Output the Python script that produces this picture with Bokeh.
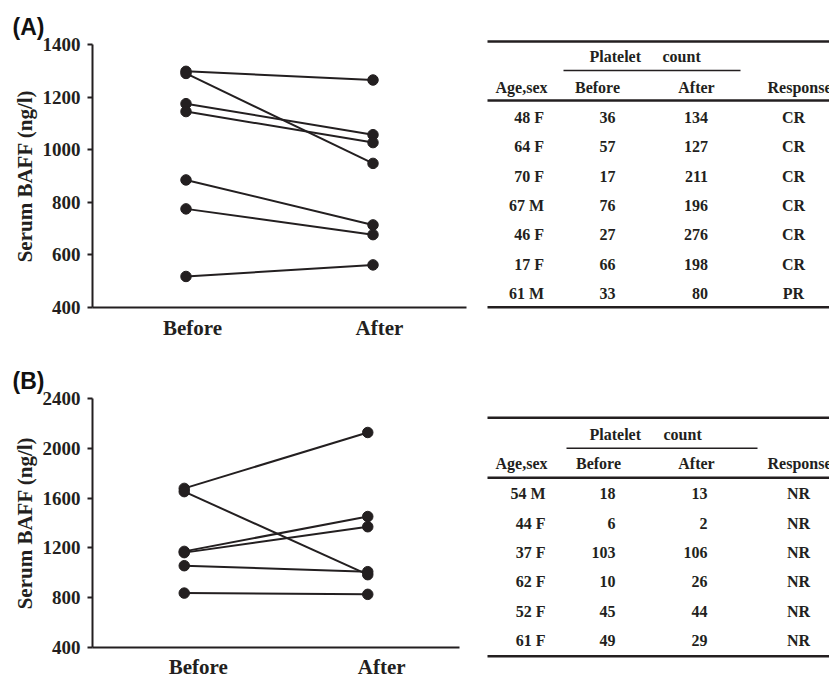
from bokeh.plotting import figure
from bokeh.models import ColumnDataSource, Range1d, FixedTicker, Title, LinearAxis
from bokeh.layouts import column, row
from bokeh.embed import file_html
from bokeh.resources import INLINE
from bokeh.core.properties import value

# ---------------- data ----------------
categories = ["Before", "After"]
cat_pos = [1, 3]

baff_before_A = [1298, 1290, 1175, 1145, 885, 775, 518]
baff_after_A = [1265, 948, 1057, 1027, 714, 677, 562]
ticks_A = [400, 600, 800, 1000, 1200, 1400]

baff_before_B = [1678, 1652, 1172, 1162, 1057, 837]
baff_after_B = [2127, 985, 1452, 1370, 1009, 827]
ticks_B = [400, 800, 1200, 1600, 2000, 2400]

header_cols = ["Age,sex", "Before", "After", "Response"]
header_group = ["Platelet", "count"]

age_A = ["48 F", "64 F", "70 F", "67 M", "46 F", "17 F", "61 M"]
plt_before_A = [36, 57, 17, 76, 27, 66, 33]
plt_after_A = [134, 127, 211, 196, 276, 198, 80]
resp_A = ["CR", "CR", "CR", "CR", "CR", "CR", "PR"]

age_B = ["54 M", "44 F", "37 F", "62 F", "52 F", "61 F"]
plt_before_B = [18, 6, 103, 10, 45, 49]
plt_after_B = [13, 2, 106, 26, 44, 29]
resp_B = ["NR", "NR", "NR", "NR", "NR", "NR"]

# ---------------- style ----------------
INK = "#231f20"
SERIF = "Liberation Serif"
SANS = "Liberation Sans"
PLOT_W = 478
TABLE_W = 351
X_SPAN = 4.0


def make_plot(before, after, ticks, tag, height, b_top, b_bottom, b_right,
              lab_shift_px, lab_standoff):
    frame_w = PLOT_W - 92 - b_right
    shift = lab_shift_px * X_SPAN / frame_w
    p = figure(width=PLOT_W, height=height, x_range=Range1d(0, X_SPAN),
               y_range=Range1d(ticks[0], ticks[-1]), output_backend="svg",
               toolbar_location=None, min_border_left=92, min_border_right=b_right,
               min_border_top=b_top, min_border_bottom=b_bottom, frame_align=False,
               x_axis_location=None)
    p.extra_x_ranges = {"lab": Range1d(-shift, X_SPAN - shift)}
    p.title = Title(text=tag, align="left", offset=-80, text_font=SANS,
                    text_font_size="23px", text_font_style="bold", text_color="#111111",
                    standoff=9)
    p.outline_line_color = None
    p.xgrid.visible = False
    p.ygrid.visible = False
    p.background_fill_color = "white"

    src = ColumnDataSource(dict(x0=[cat_pos[0]] * len(before), x1=[cat_pos[1]] * len(after),
                                b=before, a=after))
    p.segment(x0="x0", y0="b", x1="x1", y1="a", source=src, line_color=INK, line_width=2)
    p.scatter(x="x0", y="b", source=src, size=10.5, color=INK)
    p.scatter(x="x1", y="a", source=src, size=10.5, color=INK)

    yax = p.yaxis[0]
    yax.ticker = FixedTicker(ticks=ticks)
    yax.axis_label = "Serum BAFF (ng/l)"
    yax.axis_label_text_font = SERIF
    yax.axis_label_text_font_size = "21px"
    yax.axis_label_text_font_style = "bold"
    yax.axis_label_text_color = INK
    yax.axis_label_standoff = 3
    yax.major_label_text_font = SERIF
    yax.major_label_text_font_size = "19px"
    yax.major_label_text_font_style = "bold"
    yax.major_label_text_color = INK
    yax.major_label_standoff = 7
    yax.major_tick_out = 5
    yax.major_tick_in = 0
    yax.minor_tick_out = 0
    yax.minor_tick_in = 0
    yax.axis_line_width = 2
    yax.axis_line_color = INK
    yax.major_tick_line_width = 2
    yax.major_tick_line_color = INK

    xax = LinearAxis(x_range_name="lab", ticker=FixedTicker(ticks=cat_pos),
                     major_label_overrides={pos: cat for pos, cat in zip(cat_pos, categories)},
                     major_label_text_font=SERIF, major_label_text_font_size="21px",
                     major_label_text_font_style="bold", major_label_text_color=INK,
                     major_label_standoff=lab_standoff, major_tick_line_color=None,
                     minor_tick_line_color=None, axis_line_width=2, axis_line_color=INK)
    p.add_layout(xax, "below")
    return p


def make_table(ages, pb, pa, resp, height, g):
    t = figure(width=TABLE_W, height=height, x_range=Range1d(0, TABLE_W),
               y_range=Range1d(height, 0), output_backend="svg", toolbar_location=None,
               min_border=0, min_border_left=0, min_border_right=0, min_border_top=0,
               min_border_bottom=0, x_axis_type=None, y_axis_type=None, frame_align=False)
    t.grid.visible = False
    t.outline_line_color = None

    # rules
    t.segment(x0=[g["x_left"]] * 3, x1=[TABLE_W] * 3,
              y0=[g["top"], g["thick"], g["bottom"]], y1=[g["top"], g["thick"], g["bottom"]],
              line_color=INK, line_width=2.5)
    t.segment(x0=[g["ul0"]], x1=[g["ul1"]], y0=[g["ul"]], y1=[g["ul"]],
              line_color=INK, line_width=1.5)

    common = dict(text_font=value(SERIF), text_font_size="16px", text_font_style="bold",
                  text_color=INK, text_baseline="middle")
    t.text(x=[g["plat_x"], g["count_x"]], y=[g["group_y"]] * 2, text=header_group,
           text_align="left", **common)
    t.text(x=g["head_x"][:3], y=[g["head_y"]] * 3, text=header_cols[:3],
           text_align="center", **common)
    t.text(x=[g["head_x"][3]], y=[g["head_y"]], text=header_cols[3:], text_align="left", **common)

    n = len(ages)
    ys = [g["row0"] + i * g["step"] for i in range(n)]
    src = ColumnDataSource(dict(y=ys, age=ages, pb=[str(v) for v in pb],
                                pa=[str(v) for v in pa], resp=resp))
    t.text(x=g["age_r"], y="y", text="age", source=src, text_align="right", **common)
    t.text(x=g["pb_r"], y="y", text="pb", source=src, text_align="right", **common)
    t.text(x=g["pa_r"], y="y", text="pa", source=src, text_align="right", **common)
    t.text(x=g["resp_c"], y="y", text="resp", source=src, text_align="center", **common)
    return t


geo_A = dict(x_left=9, top=41, thick=100, bottom=306.7, ul=70, ul0=85, ul1=262,
             group_y=56, plat_x=111, count_x=184, head_y=86.7,
             head_x=[43, 119, 218, 289], row0=116.7, step=29.43,
             age_r=65.5, pb_r=137, pa_r=229.5, resp_c=315)
geo_B = dict(x_left=9, top=67.3, thick=127.3, bottom=305.7, ul=97.7, ul0=88, ul1=279,
             group_y=84, plat_x=111, count_x=185, head_y=113.3,
             head_x=[43, 120, 218, 289], row0=143.3, step=29.33,
             age_r=67, pb_r=137, pa_r=229, resp_c=320)

pA = make_plot(baff_before_A, baff_after_A, ticks_A, "(A)", 350, 44, 43, 12, 6.5, 2)
pB = make_plot(baff_before_B, baff_after_B, ticks_B, "(B)", 331, 48, 26, 19, 14, 1)
tA = make_table(age_A, plt_before_A, plt_after_A, resp_A, 350, geo_A)
tB = make_table(age_B, plt_before_B, plt_after_B, resp_B, 331, geo_B)

layout = column(row(pA, tA), row(pB, tB))
open("out.html", "w").write(file_html(layout, INLINE))
